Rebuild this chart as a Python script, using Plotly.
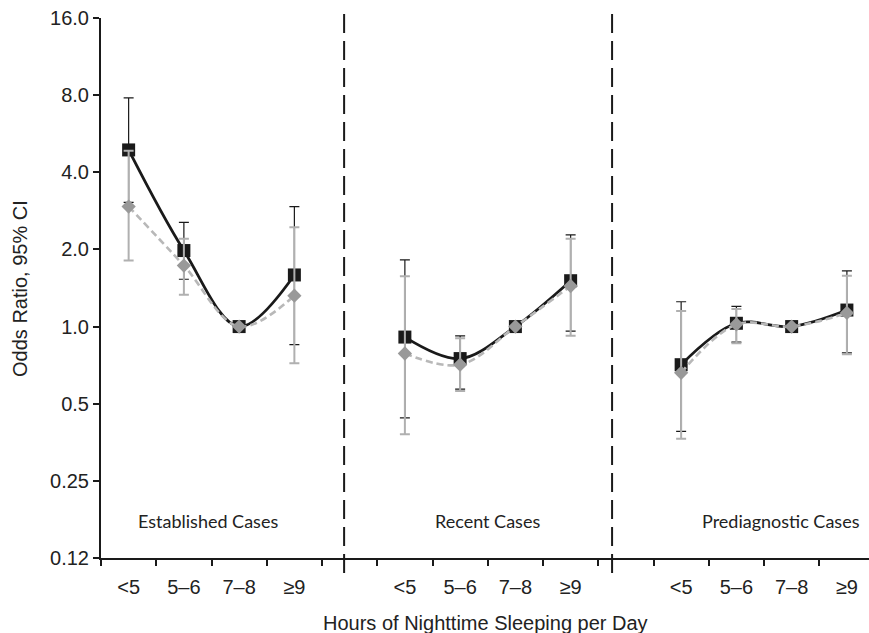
import plotly.graph_objects as go

categories = ["<5", "5–6", "7–8", "≥9"]
groups = ["Established Cases", "Recent Cases", "Prediagnostic Cases"]
y_ticks = [0.125, 0.25, 0.5, 1.0, 2.0, 4.0, 8.0, 16.0]
y_ticktext = ["0.12", "0.25", "0.5", "1.0", "2.0", "4.0", "8.0", "16.0"]

# black series (squares)
est_black = [4.89, 1.98, 1.0, 1.59]
est_black_lo = [3.05, 1.53, 1.0, 0.85]
est_black_hi = [7.81, 2.55, 1.0, 2.94]
rec_black = [0.91, 0.75, 1.0, 1.51]
rec_black_lo = [0.44, 0.57, 1.0, 0.96]
rec_black_hi = [1.82, 0.92, 1.0, 2.28]
pre_black = [0.71, 1.03, 1.0, 1.16]
pre_black_lo = [0.39, 0.87, 1.0, 0.79]
pre_black_hi = [1.25, 1.20, 1.0, 1.65]

# gray series (diamonds)
est_gray = [2.94, 1.73, 1.0, 1.32]
est_gray_lo = [1.81, 1.33, 1.0, 0.72]
est_gray_hi = [4.85, 2.20, 1.0, 2.44]
rec_gray = [0.785, 0.71, 1.0, 1.44]
rec_gray_lo = [0.38, 0.56, 1.0, 0.92]
rec_gray_hi = [1.57, 0.90, 1.0, 2.20]
pre_gray = [0.66, 1.02, 1.0, 1.13]
pre_gray_lo = [0.365, 0.86, 1.0, 0.78]
pre_gray_hi = [1.15, 1.17, 1.0, 1.58]

group_x = [
    [0.5, 1.5, 2.5, 3.5],
    [5.5, 6.5, 7.5, 8.5],
    [10.5, 11.5, 12.5, 13.5],
]
black = [(est_black, est_black_lo, est_black_hi),
         (rec_black, rec_black_lo, rec_black_hi),
         (pre_black, pre_black_lo, pre_black_hi)]
gray = [(est_gray, est_gray_lo, est_gray_hi),
        (rec_gray, rec_gray_lo, rec_gray_hi),
        (pre_gray, pre_gray_lo, pre_gray_hi)]
divider_x = [4.4, 9.25]
group_label_x = [1.93, 7.0, 12.3]

fig = go.Figure()

def err(v, lo, hi):
    return dict(type="data", symmetric=False,
                array=[h - a for a, h in zip(v, hi)],
                arrayminus=[a - l for a, l in zip(v, lo)])

for gx, (v, lo, hi) in zip(group_x, black):
    e = err(v, lo, hi)
    e.update(color="#1a1a1a", thickness=1.2, width=5)
    fig.add_trace(go.Scatter(
        x=gx, y=v, mode="lines+markers", showlegend=False,
        line=dict(color="#1a1a1a", width=2.8, shape="spline"),
        marker=dict(symbol="square", size=13, color="#1a1a1a"),
        error_y=e))

for gx, (v, lo, hi) in zip(group_x, gray):
    e = err(v, lo, hi)
    e.update(color="#b0b0b0", thickness=2, width=5)
    fig.add_trace(go.Scatter(
        x=gx, y=v, mode="lines+markers", showlegend=False,
        line=dict(color="#b8b8b8", width=2.6, shape="spline", dash="7px,4px"),
        marker=dict(symbol="diamond", size=11, color="#999999"),
        error_y=e))

for dx in divider_x:
    fig.add_shape(type="line", xref="x", yref="paper", x0=dx, x1=dx,
                  y0=-0.028, y1=1.011,
                  line=dict(color="#1a1a1a", width=2, dash="19px,8px"))

for gx, name in zip(group_label_x, groups):
    fig.add_annotation(x=gx, y=0.0685, xref="x", yref="paper", text=name,
                       showarrow=False, xanchor="center", yanchor="middle",
                       font=dict(family="Lato, Open Sans, sans-serif", size=18, color="#222"))

fig.add_annotation(x=-0.1055, y=0.5, xref="paper", yref="paper",
                   text="Odds Ratio, 95% CI", textangle=-90, showarrow=False,
                   xanchor="center", yanchor="middle",
                   font=dict(family="Liberation Sans, Arial", size=20, color="#222"))

fig.add_annotation(x=0.5, y=-0.12, xref="paper", yref="paper",
                   text="Hours of Nighttime Sleeping per Day", showarrow=False,
                   xanchor="center", yanchor="middle",
                   font=dict(family="Liberation Sans, Arial", size=20, color="#222"))

fig.update_layout(
    width=869, height=633,
    margin=dict(l=101, r=0, t=18, b=75, autoexpand=False),
    paper_bgcolor="white", plot_bgcolor="white",
    font=dict(family="Liberation Sans, Arial", size=20, color="#222"),
    xaxis=dict(
        range=[0, 13.9], showgrid=False, zeroline=False, automargin=False,
        showline=True, linecolor="#1a1a1a", linewidth=2,
        tickmode="array",
        tickvals=[x for g in group_x for x in g],
        ticktext=categories * 3,
        ticks="outside", ticklen=10, tickcolor="rgba(0,0,0,0)",
        minor=dict(tickmode="array", tickvals=list(range(0, 14)),
                   ticks="outside", ticklen=6, tickwidth=2, tickcolor="#1a1a1a"),
    ),
    yaxis=dict(
        type="log", range=[-0.90309, 1.20412], showgrid=False, zeroline=False,
        automargin=False,
        showline=True, linecolor="#1a1a1a", linewidth=2,
        tickmode="array", tickvals=y_ticks, ticktext=y_ticktext,
        ticks="outside", ticklen=6, tickwidth=1.5, tickcolor="#1a1a1a",
    ),
)

fig.write_html("out.html", config={"displayModeBar": False},
               post_script="document.body.style.margin='0';document.body.style.overflow='hidden';")
